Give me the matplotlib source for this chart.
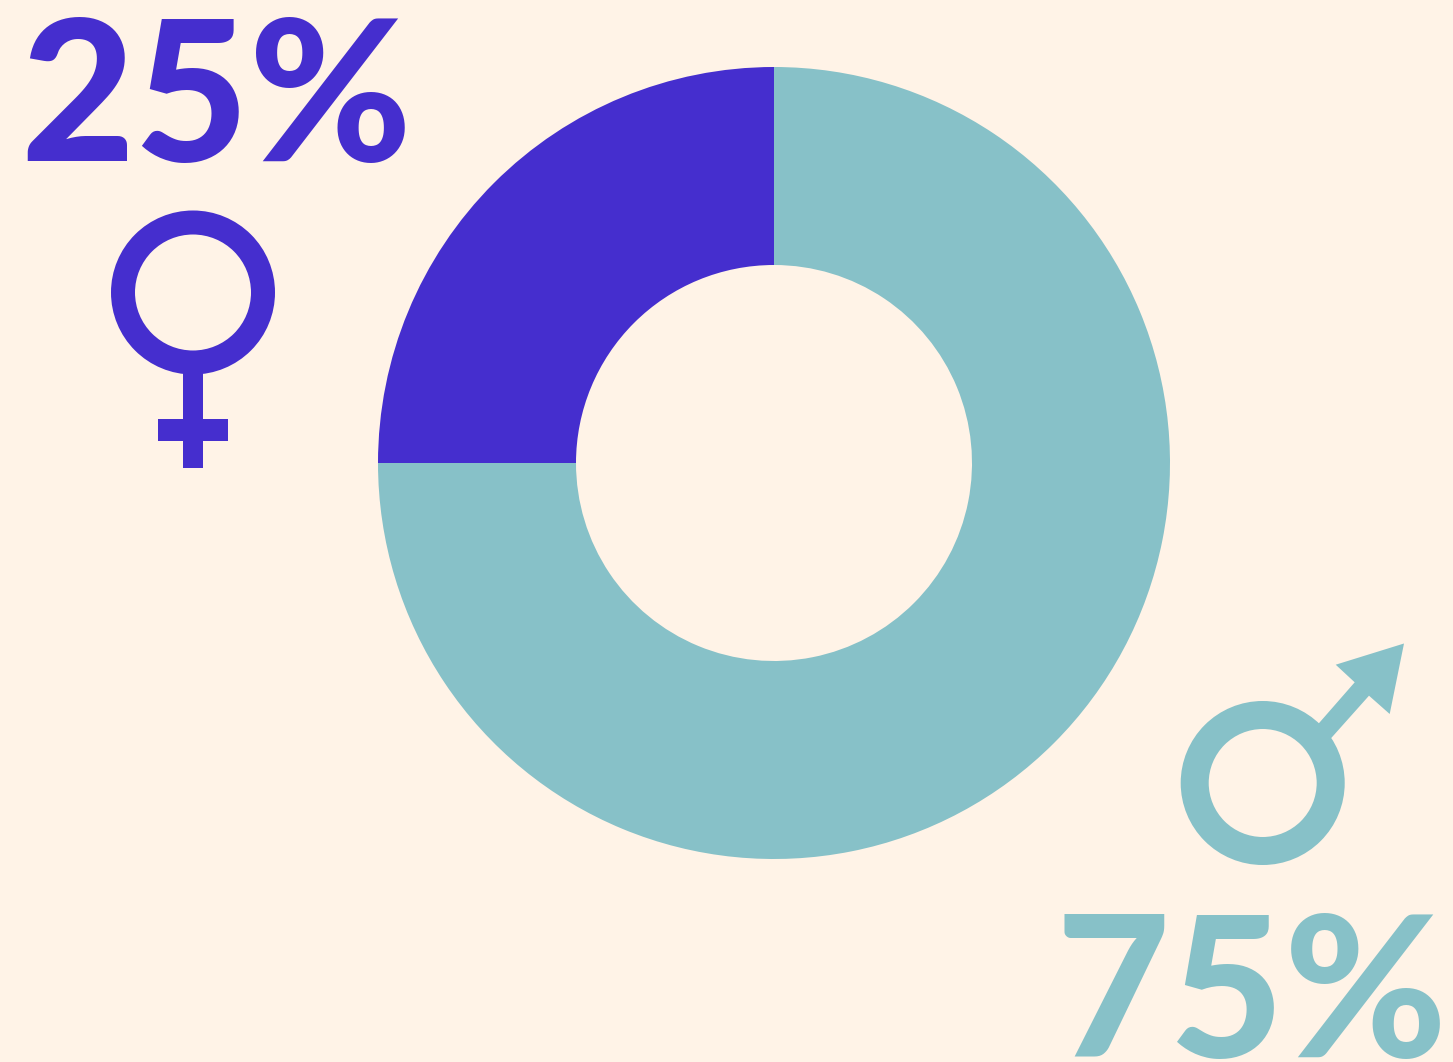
import matplotlib
matplotlib.use('agg')
import matplotlib.pyplot as plt
from matplotlib.patches import Circle, Rectangle, Polygon

shares = [25, 75]
labels = ['25%', '75%']
colors = ['#452ECE', '#87C1C8']
bg = '#FFF3E7'

W, H = 1453, 1062
fig = plt.figure(figsize=(W/100, H/100), dpi=100, facecolor=bg)

# donut
cx, cy, r = 774, 463, 396
ax = fig.add_axes([(cx-r)/W, 1-(cy+r)/H, 2*r/W, 2*r/H])
ax.pie(shares, colors=colors, startangle=90, counterclock=True,
       wedgeprops=dict(width=0.5, linewidth=0))
ax.set_xlim(-1, 1)
ax.set_ylim(-1, 1)

# overlay in pixel coords for labels and the two icons
ov = fig.add_axes([0, 0, 1, 1])
ov.set_xlim(0, W)
ov.set_ylim(H, 0)
ov.axis('off')
ov.patch.set_alpha(0)

ov.text(20, 161, labels[0], color=colors[0], fontsize=142, family='Lato', weight='black', va='baseline', ha='left')
ov.text(1056, 1057, labels[1], color=colors[1], fontsize=142, family='Lato', weight='black', va='baseline', ha='left')

# female sign
ov.add_patch(Circle((193, 292.5), 70, fc='none', ec=colors[0], lw=24*0.72))
ov.add_patch(Rectangle((183, 370), 20, 98, fc=colors[0], lw=0))
ov.add_patch(Rectangle((158, 419), 70, 22, fc=colors[0], lw=0))

# male sign
ov.add_patch(Circle((1262.7, 783), 68, fc='none', ec=colors[1], lw=28*0.72))
ov.add_patch(Polygon([(1404, 643.5), (1335.7, 664.7), (1354.7, 682.3), (1313, 730),
                      (1325, 745), (1369, 695.7), (1389.7, 714)], fc=colors[1], lw=0))

fig.savefig('out.png', facecolor=bg, dpi=100)
